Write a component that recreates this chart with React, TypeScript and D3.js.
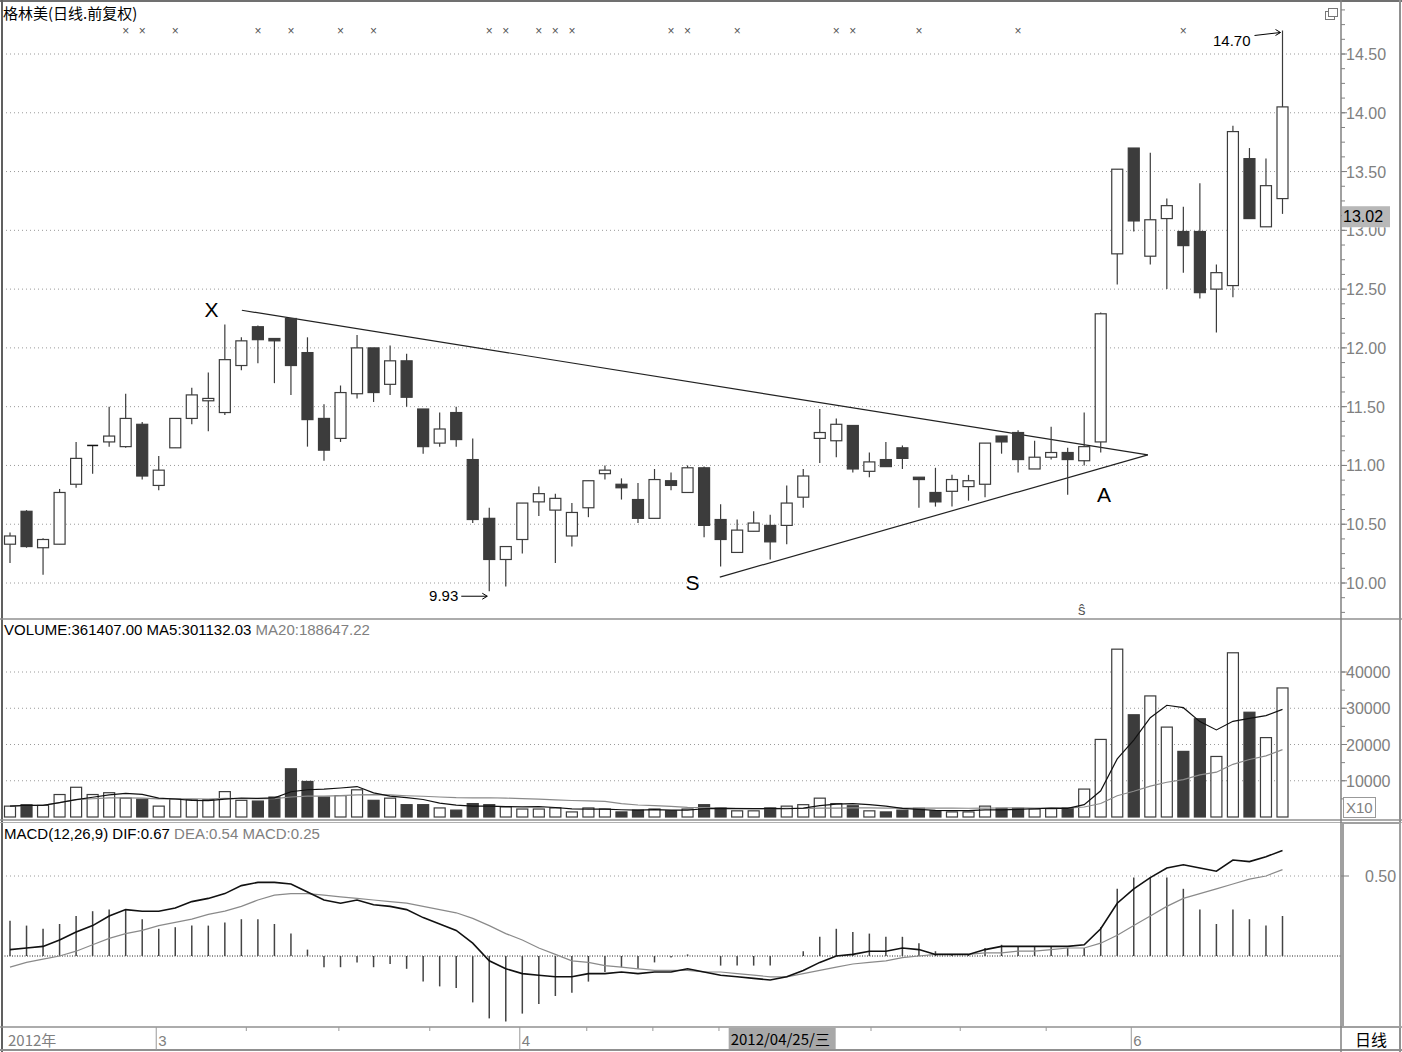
import React from 'react';
import * as d3 from 'd3';

const opens = [10.33,10.61,10.30,10.33,10.84,11.17,11.20,11.16,11.35,10.83,11.15,11.40,11.55,11.45,11.85,12.18,12.08,12.25,11.96,11.40,11.23,11.61,12.00,11.69,11.89,11.48,11.19,11.45,11.05,10.55,10.20,10.37,10.69,10.62,10.40,10.64,10.93,10.84,10.71,10.55,10.87,10.77,10.98,10.54,10.26,10.44,10.49,10.49,10.73,11.23,11.21,11.34,10.95,11.05,11.15,10.90,10.77,10.78,10.82,10.84,11.25,11.28,10.97,11.07,11.11,11.04,11.20,12.80,13.70,12.78,13.10,12.99,12.99,12.50,12.53,13.61,13.03,13.27];
const highs = [10.43,10.62,10.38,10.80,11.20,11.17,11.50,11.61,11.37,11.08,11.40,11.66,11.79,12.20,12.09,12.19,12.08,12.25,12.09,11.52,11.68,12.11,12.00,12.02,11.95,11.48,11.45,11.50,11.23,10.64,10.31,10.68,10.82,10.76,10.68,10.87,11.00,10.89,10.85,10.97,10.94,11.00,10.99,10.67,10.54,10.61,10.58,10.83,10.97,11.48,11.40,11.34,11.11,11.20,11.17,10.90,10.98,10.92,10.92,11.19,11.25,11.30,11.21,11.33,11.15,11.45,12.30,13.52,13.70,13.66,13.27,13.20,13.40,12.71,13.89,13.70,13.61,14.70];
const lows = [10.17,10.30,10.07,10.33,10.81,10.93,11.16,11.15,10.88,10.79,11.15,11.35,11.29,11.43,11.81,11.87,11.70,11.60,11.16,11.04,11.20,11.57,11.54,11.60,11.50,11.10,11.16,11.16,10.51,9.93,9.97,10.25,10.57,10.17,10.31,10.56,10.88,10.71,10.51,10.55,10.79,10.77,10.39,10.14,10.26,10.44,10.20,10.33,10.64,11.02,11.07,10.94,10.90,10.99,10.97,10.64,10.65,10.65,10.70,10.73,11.10,10.94,10.97,11.05,10.75,11.00,11.11,12.54,12.99,12.71,12.50,12.64,12.42,12.13,12.43,13.10,13.03,13.14];
const closes = [10.40,10.31,10.37,10.77,11.06,11.17,11.25,11.40,10.91,10.96,11.40,11.60,11.57,11.90,12.06,12.07,12.06,11.85,11.39,11.13,11.62,12.00,11.62,11.89,11.58,11.16,11.31,11.22,10.54,10.20,10.31,10.68,10.76,10.72,10.60,10.87,10.96,10.81,10.55,10.88,10.83,10.98,10.49,10.37,10.45,10.51,10.35,10.68,10.91,11.28,11.35,10.97,11.03,10.99,11.06,10.88,10.69,10.88,10.87,11.19,11.20,11.05,11.07,11.11,11.05,11.16,12.29,13.52,13.08,13.09,13.21,12.87,12.47,12.64,13.84,13.10,13.38,14.05];
const volumes = [3000,3400,3200,6200,8200,6200,6700,5200,4900,3000,5000,4800,4800,7000,4600,4400,5500,13300,9800,5500,5900,7500,4600,5200,3400,3400,2500,1900,3700,3400,2800,2200,2200,2500,1400,2500,2200,1400,1900,2200,1700,2200,3400,2500,1700,1700,2500,3000,3400,5200,3700,3100,1700,1400,1900,2400,1700,1400,1400,3000,2400,2400,2200,2300,2500,7700,21400,46300,28200,33400,24800,18100,27100,16700,45300,28900,21900,35600];
const difs = [0.04,0.05,0.06,0.10,0.15,0.19,0.25,0.29,0.28,0.28,0.30,0.34,0.36,0.39,0.44,0.46,0.46,0.45,0.40,0.35,0.33,0.35,0.32,0.31,0.29,0.24,0.20,0.16,0.08,-0.03,-0.08,-0.11,-0.12,-0.13,-0.13,-0.11,-0.11,-0.10,-0.11,-0.10,-0.10,-0.08,-0.10,-0.12,-0.13,-0.14,-0.15,-0.13,-0.09,-0.04,0.00,0.01,0.03,0.03,0.05,0.04,0.01,0.01,0.01,0.04,0.06,0.06,0.06,0.06,0.06,0.07,0.17,0.33,0.42,0.49,0.55,0.57,0.55,0.53,0.60,0.59,0.62,0.66];
const deas = [-0.07,-0.04,-0.02,0.00,0.03,0.07,0.11,0.14,0.16,0.19,0.21,0.23,0.26,0.28,0.31,0.35,0.38,0.39,0.39,0.38,0.37,0.36,0.35,0.34,0.33,0.31,0.29,0.27,0.235,0.19,0.14,0.10,0.05,0.01,-0.03,-0.04,-0.06,-0.07,-0.08,-0.09,-0.09,-0.09,-0.10,-0.10,-0.11,-0.12,-0.13,-0.13,-0.11,-0.09,-0.07,-0.05,-0.04,-0.03,-0.01,0.00,0.01,0.01,0.01,0.02,0.02,0.03,0.03,0.04,0.05,0.05,0.08,0.13,0.19,0.25,0.31,0.36,0.39,0.42,0.45,0.48,0.50,0.54];
const macds = [0.22,0.19,0.17,0.20,0.25,0.28,0.29,0.29,0.23,0.17,0.18,0.19,0.19,0.21,0.23,0.23,0.20,0.14,0.04,-0.07,-0.07,-0.04,-0.07,-0.05,-0.08,-0.16,-0.19,-0.20,-0.29,-0.39,-0.41,-0.36,-0.30,-0.25,-0.23,-0.16,-0.10,-0.07,-0.08,-0.04,-0.01,0.01,0.00,-0.06,-0.06,-0.06,-0.06,0.00,0.03,0.12,0.17,0.15,0.14,0.12,0.12,0.08,0.03,0.01,0.01,0.05,0.07,0.06,0.06,0.06,0.05,0.05,0.18,0.42,0.49,0.49,0.49,0.42,0.29,0.20,0.29,0.23,0.19,0.25];

const priceTicks = [10.0, 10.5, 11.0, 11.5, 12.0, 12.5, 13.0, 13.5, 14.0, 14.5];
const volTicks = [10000, 20000, 30000, 40000];
const macdTicks = [0.5];
const markerIdx = [7, 8, 10, 15, 17, 20, 22, 29, 30, 32, 33, 34, 40, 41, 44, 50, 51, 55, 61, 71];
const monthLabels = [{ idx: 9, label: '3' }, { idx: 31, label: '4' }, { idx: 68, label: '6' }];
const weekTickIdx = [14.3, 19.9, 25.4, 34.9, 38.9, 42.9, 52.1, 57.5, 62.7];
const trendUpper = [{ i: 14.03, p: 12.32 }, { i: 68.85, p: 11.09 }];
const trendLower = [{ i: 42.95, p: 10.05 }, { i: 68.85, p: 11.09 }];
const patternLabels = [{ t: 'X', i: 12.2, p: 12.26 }, { t: 'S', i: 41.3, p: 9.94 }, { t: 'A', i: 66.2, p: 10.69 }];

const FONT = '"Liberation Sans", Arial, sans-serif';
const CJK = '"Noto Sans CJK SC", "Liberation Sans", sans-serif';
const DARK = '#3c3c3c';
const GRAY = '#808080';

const movingAvg = (arr: number[], k: number) =>
  arr.map((_, i) => d3.mean(arr.slice(Math.max(0, i - k + 1), i + 1)) as number);

export default function App() {
  const n = closes.length;
  const x = d3.scaleLinear().domain([0, n - 1]).range([10, 1282.5]);
  const yP = d3.scaleLinear().domain([10, 14.5]).range([583, 54]);
  const yV = d3.scaleLinear().domain([0, 40000]).range([817, 672]);
  const yM = d3.scaleLinear().domain([0, 0.5]).range([956, 876]);
  const bw = 11;
  const plotL = 2, plotR = 1341;

  const ma5 = movingAvg(volumes, 5);
  const ma20 = movingAvg(volumes, 20);
  const lineV = d3.line<number>().x((_, i) => x(i)).y(d => yV(d));
  const lineM = d3.line<number>().x((_, i) => x(i)).y(d => yM(d));

  const priceMinor = d3.range(9.75, 14.9, 0.125);
  const volMinor = d3.range(5000, 45000, 5000);

  const candles = closes.map((c, i) => {
    const o = opens[i];
    const up = c >= o;
    const cx = x(i);
    const top = yP(Math.max(o, c));
    const bot = yP(Math.min(o, c));
    const h = Math.max(1, bot - top);
    return (
      <g key={'c' + i}>
        <line x1={cx} x2={cx} y1={yP(highs[i])} y2={yP(lows[i])} stroke={DARK} strokeWidth={1.2} />
        {o === c ? (
          <line x1={cx - bw / 2} x2={cx + bw / 2} y1={top} y2={top} stroke={'#111'} strokeWidth={1.5} />
        ) : (
          <rect x={cx - bw / 2} y={top} width={bw} height={h} fill={up ? '#fff' : DARK} stroke={DARK} strokeWidth={1.2} />
        )}
      </g>
    );
  });

  const vbars = volumes.map((v, i) => {
    const up = closes[i] >= opens[i];
    const cx = x(i);
    return (
      <rect key={'v' + i} x={cx - bw / 2} y={yV(v)} width={bw} height={yV(0) - yV(v)}
        fill={up ? '#fff' : DARK} stroke={DARK} strokeWidth={1.2} />
    );
  });

  const mbars = macds.map((m, i) => (
    <line key={'m' + i} x1={x(i)} x2={x(i)} y1={yM(0)} y2={yM(m)} stroke={'#444'} strokeWidth={1.5} />
  ));

  const hiX = x(77), hiY = yP(14.70);
  const loX = x(29), loY = yP(9.93) + 5;
  const dateBoxX = x(45) - 25;
  const lastY = yP(13.12);

  return (
    <svg width={1402} height={1052} style={{ position: 'absolute', left: 0, top: 0, background: '#fff' }}
      fontFamily={FONT}>
      <rect x={0} y={0} width={1402} height={1052} fill="#fff" />

      {/* grid lines */}
      {priceTicks.map(t => (
        <line key={'pg' + t} x1={plotL} x2={plotR} y1={yP(t)} y2={yP(t)} stroke="#9a9a9a" strokeDasharray="1 3" />
      ))}
      {volTicks.map(t => (
        <line key={'vg' + t} x1={plotL} x2={plotR} y1={yV(t)} y2={yV(t)} stroke="#9a9a9a" strokeDasharray="1 3" />
      ))}
      {macdTicks.map(t => (
        <line key={'mg' + t} x1={plotL} x2={plotR} y1={yM(t)} y2={yM(t)} stroke="#9a9a9a" strokeDasharray="1 3" />
      ))}
      <line x1={plotL} x2={plotR} y1={yM(0)} y2={yM(0)} stroke="#222" strokeDasharray="1 1.5" />

      {/* frame */}
      <line x1={0} x2={1402} y1={1} y2={1} stroke="#707070" strokeWidth={2} />
      <line x1={2} x2={2} y1={0} y2={1052} stroke="#606060" strokeWidth={2} />
      <line x1={0} x2={1402} y1={619} y2={619} stroke="#909090" strokeWidth={1.5} />
      <line x1={0} x2={1402} y1={820} y2={820} stroke="#909090" strokeWidth={1.5} />
      <line x1={0} x2={1402} y1={822.5} y2={822.5} stroke="#b0b0b0" strokeWidth={1} />
      <line x1={0} x2={1402} y1={1027} y2={1027} stroke="#909090" strokeWidth={1.5} />
      <line x1={0} x2={1402} y1={1050} y2={1050} stroke="#909090" strokeWidth={2} />
      <line x1={plotR} x2={plotR} y1={0} y2={1052} stroke="#808080" strokeWidth={1.5} />
      <line x1={1400} x2={1400} y1={0} y2={1052} stroke="#909090" strokeWidth={2} />
      <rect x={1343} y={823} width={57} height={204} fill="none" stroke="#a0a0a0" strokeWidth={2} />

      {/* title */}
      <text x={3} y={19} fontSize={15} fontFamily={CJK} fill="#000">格林美(日线.前复权)</text>
      {markerIdx.map(i => (
        <text key={'mk' + i} x={x(i)} y={35} fontSize={12} textAnchor="middle" fill="#555">×</text>
      ))}
      {/* window icon */}
      <rect x={1325.5} y={11.5} width={9} height={8} fill="#fff" stroke="#777" />
      <rect x={1328.5} y={8.5} width={9} height={8} fill="#fff" stroke="#777" />

      {/* price axis */}
      {priceMinor.map(t => (
        <line key={'pm' + t} x1={plotR} x2={plotR + 4} y1={yP(t)} y2={yP(t)} stroke="#808080" />
      ))}
      {priceTicks.filter(t => t !== 13).map(t => (
        <g key={'pt' + t}>
          <line x1={plotR} x2={plotR + 6} y1={yP(t)} y2={yP(t)} stroke="#808080" />
          <text x={1346} y={yP(t) + 6} fontSize={16} fill={GRAY}>{t.toFixed(2)}</text>
        </g>
      ))}
      {/* 13.00 label partly hidden under the last-price box, as in the reference */}
      <clipPath id="clip13">
        <rect x={1342} y={lastY + 11} width={58} height={20} />
      </clipPath>
      <line x1={plotR} x2={plotR + 6} y1={yP(13)} y2={yP(13)} stroke="#808080" />
      <text x={1346} y={yP(13) + 6} fontSize={16} fill={GRAY} clipPath="url(#clip13)">13.00</text>
      <rect x={1342} y={lastY - 10} width={48} height={21} fill="#b8b8b8" />
      <text x={1343} y={lastY + 6} fontSize={16} fill="#000">13.02</text>

      {/* trend lines */}
      <line x1={x(trendUpper[0].i)} y1={yP(trendUpper[0].p)} x2={x(trendUpper[1].i)} y2={yP(trendUpper[1].p)} stroke="#222" strokeWidth={1.2} />
      <line x1={x(trendLower[0].i)} y1={yP(trendLower[0].p)} x2={x(trendLower[1].i)} y2={yP(trendLower[1].p)} stroke="#222" strokeWidth={1.2} />

      {candles}

      {patternLabels.map(l => (
        <text key={l.t} x={x(l.i)} y={yP(l.p)} fontSize={21} textAnchor="middle" fill="#000">{l.t}</text>
      ))}

      {/* annotations */}
      <text x={hiX - 32} y={hiY + 16} fontSize={15} textAnchor="end" fill="#000">14.70</text>
      <path d={`M${hiX - 28},${hiY + 5} L${hiX - 2},${hiY + 2}`} stroke="#000" fill="none" />
      <path d={`M${hiX - 7},${hiY - 1} L${hiX - 2},${hiY + 2} L${hiX - 7},${hiY + 5}`} stroke="#000" fill="none" />
      <text x={loX - 31} y={loY + 5} fontSize={15} textAnchor="end" fill="#000">9.93</text>
      <path d={`M${loX - 28},${loY} L${loX - 2},${loY}`} stroke="#000" fill="none" />
      <path d={`M${loX - 7},${loY - 3} L${loX - 2},${loY} L${loX - 7},${loY + 3}`} stroke="#000" fill="none" />
      <text x={x(64.85)} y={615} fontSize={15} textAnchor="middle" fill="#555">ŝ</text>

      {/* volume pane */}
      <text x={4} y={635} fontSize={15}>
        <tspan fill="#000">VOLUME:361407.00  MA5:301132.03 </tspan>
        <tspan fill={GRAY}> MA20:188647.22</tspan>
      </text>
      {vbars}
      <path d={lineV(ma20) || ''} fill="none" stroke="#8a8a8a" strokeWidth={1.2} />
      <path d={lineV(ma5) || ''} fill="none" stroke="#111" strokeWidth={1.2} />
      {volMinor.map(t => (
        <line key={'vm' + t} x1={plotR} x2={plotR + 4} y1={yV(t)} y2={yV(t)} stroke="#808080" />
      ))}
      {volTicks.map(t => (
        <g key={'vt' + t}>
          <line x1={plotR} x2={plotR + 6} y1={yV(t)} y2={yV(t)} stroke="#808080" />
          <text x={1346} y={yV(t) + 6} fontSize={16} fill={GRAY}>{t}</text>
        </g>
      ))}
      <rect x={1343.5} y={797.5} width={32} height={20} fill="#fff" stroke="#999" />
      <text x={1346} y={813} fontSize={15} fill={GRAY}>X10</text>

      {/* macd pane */}
      <text x={4} y={839} fontSize={15}>
        <tspan fill="#000">MACD(12,26,9)  DIF:0.67 </tspan>
        <tspan fill={GRAY}> DEA:0.54  MACD:0.25</tspan>
      </text>
      {mbars}
      <path d={lineM(deas) || ''} fill="none" stroke="#8a8a8a" strokeWidth={1.2} />
      <path d={lineM(difs) || ''} fill="none" stroke="#111" strokeWidth={1.6} />
      {macdTicks.map(t => (
        <g key={'mt' + t}>
          <line x1={plotR} x2={plotR + 8} y1={yM(t)} y2={yM(t)} stroke="#808080" />
          <text x={1365} y={yM(t) + 6} fontSize={16} fill={GRAY}>{t.toFixed(2)}</text>
        </g>
      ))}

      {/* date axis */}
      <text x={8} y={1046} fontSize={15} fontFamily={CJK} fill={GRAY}>2012年</text>
      {monthLabels.map(m => (
        <g key={'ml' + m.idx}>
          <line x1={x(m.idx) - 2.5} x2={x(m.idx) - 2.5} y1={1027} y2={1050} stroke="#999" />
          <text x={x(m.idx) - 0.5} y={1046} fontSize={15} fill={GRAY}>{m.label}</text>
        </g>
      ))}
      {weekTickIdx.map(w => (
        <line key={'wt' + w} x1={x(w)} x2={x(w)} y1={1027} y2={1031} stroke="#999" />
      ))}
      <rect x={dateBoxX} y={1028} width={107} height={21} fill="#a8a8a8" />
      <text x={dateBoxX + 2} y={1045} fontSize={15} fontFamily={CJK} fill="#000">2012/04/25/三</text>
      <text x={1355} y={1046} fontSize={16} fontFamily={CJK} fill="#000">日线</text>
    </svg>
  );
}
